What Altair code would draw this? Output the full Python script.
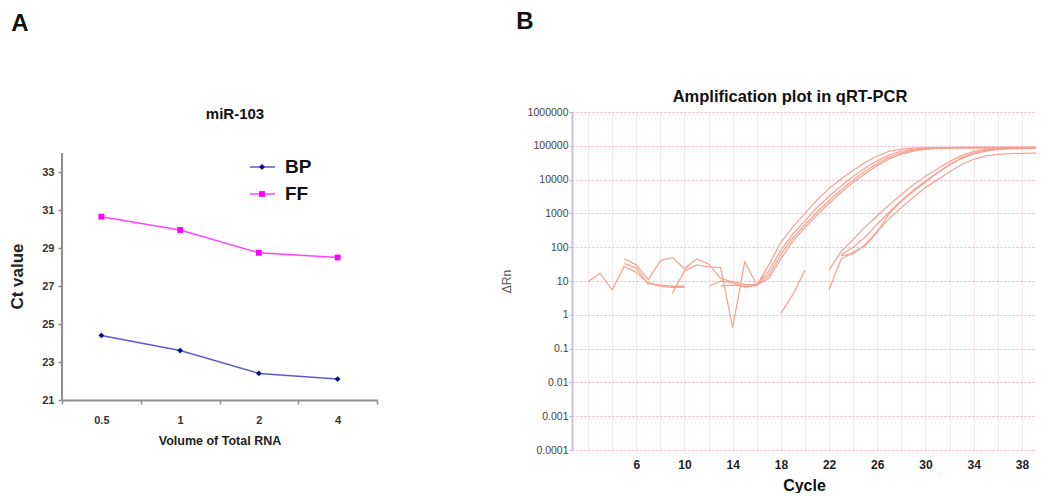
import altair as alt
import pandas as pd

FONT = "Liberation Sans"

# ---------------- Panel A data ----------------
volumes = ["0.5", "1", "2", "4"]
series_names = ["BP", "FF"]
bp_ct = [24.4, 23.6, 22.4, 22.1]
ff_ct = [30.65, 29.95, 28.75, 28.5]
ct_ticks = [21, 23, 25, 27, 29, 31, 33]
ct_axis_top = 34

# ---------------- Panel B data ----------------
cycles = list(range(1, 41))
N = None
curve_e1 = [N, 9.5, 17, 5.5, 27, 18, 8.5, 7.5, 7, 7, N, N, 7.2, 7.5, 7.0, 7.4, 30, 140, 400, 1000,
            2500, 5500, 10500, 19000, 32000, 50000, 70000, 80000, 85000, 87000,
            88000, 88500, 89000, 89000, 89500, 89500, 90000, 90000, 90000, 90000]
curve_e2 = [N, N, N, N, 45, 30, 11, 40, 50, 23, 45, 32, 12, 9.5, 8, 7.8, 20, 80, 250, 600,
            1500, 3200, 6500, 12500, 22000, 36000, 54000, 70000, 80000, 85000,
            87000, 88000, 88500, 89000, 89000, 89000, 89000, 89000, 89000, 89000]
curve_e3 = [N, N, N, N, 33, 24, 8, N, 4.3, 20, 30, 26, 25, 0.42, 37, 7.6, 15, 60, 190, 460,
            1100, 2400, 5000, 9800, 18000, 30000, 46000, 62000, 74000, 81000,
            85000, 87000, 88000, 88500, 88500, 88500, 88500, 88500, 88500, 88500]
curve_e4 = [N, N, N, N, N, N, 9, 7, 6.5, 6.5, N, 7, 10, 9, 6.5, 7.5, 12, 45, 150, 380,
            900, 2000, 4200, 8200, 15000, 26000, 41000, 57000, 70000, 79000,
            84000, 86000, 87000, 87500, 87500, 87500, 87500, 87500, 87500, 87500]
curve_l1 = [N, N, N, N, N, N, N, N, N, N, N, N, N, N, N, N, N, 1.1, 4, 21,
            N, 5.5, 45, 70, 110, 280, 1000, 2300, 4500, 8500,
            16000, 28000, 45000, 62000, 74000, 80000, 84000, 86000, 87000, 88000]
curve_l2 = [N, N, N, N, N, N, N, N, N, N, N, N, N, N, N, N, N, N, N, N,
            N, 21, 75, 170, 400, 850, 1800, 3600, 7000, 12500,
            21000, 34000, 52000, 68000, 78000, 83000, 86000, 87000, 88000, 88000]
curve_l3 = [N, N, N, N, N, N, N, N, N, N, N, N, N, N, N, N, N, N, N, N,
            N, N, 55, 65, 120, 300, 700, 1500, 3000, 5800,
            10000, 17000, 28000, 40000, 50000, 56000, 59000, 60000, 61000, 61000]
curve_l4 = [N, N, N, N, N, N, N, N, N, N, N, N, N, N, N, N, N, N, N, N,
            N, N, 60, 100, 200, 480, 1100, 2400, 4800, 9000,
            16000, 27000, 42000, 58000, 70000, 77000, 81000, 83000, 84000, 84000]
curve_names = ["E1", "E2", "E3", "E4", "L1", "L2", "L3", "L4"]
curve_values = [curve_e1, curve_e2, curve_e3, curve_e4, curve_l1, curve_l2, curve_l3, curve_l4]
drn_ticks = [0.0001, 0.001, 0.01, 0.1, 1, 10, 100, 1000, 10000, 100000, 1000000]
cycle_grid = list(range(2, 40, 2))
cycle_labels = [6, 10, 14, 18, 22, 26, 30, 34, 38]

# ---------------- Panel A ----------------
rowsA = []
for s, vals in zip(series_names, [bp_ct, ff_ct]):
    for v, c in zip(volumes, vals):
        rowsA.append({"volume": v, "ct": c, "series": s})
dfA = pd.DataFrame(rowsA)

line_colors = ["#5a5ad2", "#ff44ff"]
marker_colors = ["#0a0a84", "#ff00ff"]
marker_shapes = ["diamond", "square"]
gray = "#8e8e8e"

# plot area of A spans the same height above as panel B; the visible axis stops at 34
A_HEIGHT = 288
A_TOP = 21 + A_HEIGHT / 19.0

xA = alt.X("volume:N", sort=volumes, bandPosition=0.5,
           scale=alt.Scale(type="band", domain=volumes, paddingInner=0, paddingOuter=0),
           axis=alt.Axis(title="Volume of Total RNA", labelAngle=0, tickBand="extent",
                         domainColor=gray, domainWidth=2, tickColor=gray, tickWidth=1.5, tickSize=4,
                         labelFont=FONT, labelFontSize=11, labelFontWeight="bold", labelColor="#333",
                         labelPadding=10, titleFont=FONT, titleFontSize=12.5, titleFontWeight="bold",
                         titleColor="#222", titlePadding=9, grid=False))
yA = alt.Y("ct:Q", scale=alt.Scale(domain=[21, A_TOP], nice=False, zero=False),
           axis=alt.Axis(values=ct_ticks, title=None, grid=False, domain=False,
                         tickColor=gray, tickWidth=1.5, tickSize=4,
                         labelFont=FONT, labelFontSize=11, labelFontWeight="bold", labelColor="#333",
                         labelPadding=4))

linesA = alt.Chart(dfA).mark_line(strokeWidth=1.5).encode(
    x=xA, y=yA,
    color=alt.Color("series:N", scale=alt.Scale(domain=series_names, range=line_colors), legend=None))
pointsA = alt.Chart(dfA).mark_point(filled=True, opacity=1, size=34).encode(
    x=xA, y=yA,
    fill=alt.Fill("series:N", scale=alt.Scale(domain=series_names, range=marker_colors), legend=None),
    shape=alt.Shape("series:N", scale=alt.Scale(domain=series_names, range=marker_shapes), legend=None))

axis_df = pd.DataFrame({"lo": [min(ct_ticks)], "hi": [ct_axis_top]})
axisA = alt.Chart(axis_df).mark_rule(color=gray, strokeWidth=2).encode(
    x=alt.value(0), y=alt.Y("lo:Q"), y2="hi:Q")

ytitle_df = pd.DataFrame({"t": ["Ct value"], "mid": [(min(ct_ticks) + ct_axis_top) / 2]})
ytitleA = alt.Chart(ytitle_df).mark_text(angle=270, align="center", baseline="middle", font=FONT,
                                         fontSize=17, fontWeight="bold", color="#222").encode(
    x=alt.value(-44), y=alt.Y("mid:Q"), text="t:N")

layersA = [axisA, linesA, pointsA, ytitleA]
for i, s in enumerate(series_names):
    d = pd.DataFrame({"series": [s]})
    yv = 55 + 27 * i
    layersA.append(alt.Chart(d).mark_rule(color=line_colors[i], strokeWidth=1.5).encode(
        x=alt.value(188), x2=alt.value(213), y=alt.value(yv)))
    layersA.append(alt.Chart(d).mark_point(filled=True, opacity=1, size=34, shape=marker_shapes[i],
                                           color=marker_colors[i]).encode(x=alt.value(200), y=alt.value(yv)))
    layersA.append(alt.Chart(d).mark_text(align="left", baseline="middle", font=FONT, fontSize=19,
                                          fontWeight="bold", color="#111").encode(
        x=alt.value(223), y=alt.value(yv), text="series:N"))

textA = pd.DataFrame({"t": ["miR-103"]})
layersA.append(alt.Chart(textA).mark_text(align="center", baseline="middle", font=FONT, fontSize=15,
                                          fontWeight="bold", color="#111").encode(
    x=alt.value(173), y=alt.value(2), text="t:N"))
letterA = pd.DataFrame({"t": ["A"]})
layersA.append(alt.Chart(letterA).mark_text(align="center", baseline="middle", font=FONT, fontSize=24,
                                            fontWeight="bold", color="#111").encode(
    x=alt.value(-42), y=alt.value(-88), text="t:N"))
spacerA = pd.DataFrame({"t": [" "]})
layersA.append(alt.Chart(spacerA).mark_text(align="left", baseline="top", fontSize=4).encode(
    x=alt.value(-54), y=alt.value(-104), text="t:N"))

chartA = alt.layer(*layersA).properties(width=315, height=A_HEIGHT)

# ---------------- Panel B ----------------
rowsB = []
for name, vals in zip(curve_names, curve_values):
    seg = 0
    prev = None
    for c, v in zip(cycles, vals):
        if v is None:
            if prev is not None:
                seg += 1
            prev = None
            continue
        rowsB.append({"curve": name, "part": f"{name}-{seg}", "cycle": c, "dRn": v})
        prev = v
dfB = pd.DataFrame(rowsB)

lab_expr = "indexof([" + ",".join(str(v) for v in cycle_labels) + "], datum.value) >= 0 ? datum.label : ''"
xB = alt.X("cycle:Q", scale=alt.Scale(domain=[0.668, 39.17], nice=False, zero=False),
           axis=alt.Axis(values=cycle_grid, labelExpr=lab_expr, title="Cycle", grid=True,
                         gridColor="#f8e6ed", gridWidth=1, domain=False, ticks=False, tickSize=0,
                         labelFont=FONT, labelFontSize=12, labelFontWeight="bold", labelColor="#222",
                         labelPadding=9, labelFlush=False, labelOverlap=False,
                         titleFont=FONT, titleFontSize=16, titleFontWeight="bold", titleColor="#111",
                         titlePadding=7))
yB = alt.Y("dRn:Q", scale=alt.Scale(type="log", domain=[0.0001, 1000000], nice=False),
           axis=alt.Axis(values=drn_ticks, labelExpr="format(datum.value, '')", title="ΔRn",
                         grid=True, gridColor="#eeb0c4", gridDash=[2, 2], gridWidth=1,
                         domainColor="#cbc2d6", domainWidth=2, tickColor="#b8b0c4", tickSize=3,
                         labelFont=FONT, labelFontSize=10.5, labelColor="#444", labelPadding=1,
                         labelOverlap=False, labelFlush=False,
                         titleFont=FONT, titleFontSize=12, titleFontWeight="normal", titleColor="#555",
                         titlePadding=14))

linesB = alt.Chart(dfB).mark_line(strokeWidth=1.3, color="#f6a08e", clip=True, opacity=0.95).encode(
    x=xB, y=yB, detail="part:N", order="cycle:Q")

textB = pd.DataFrame({"t": ["Amplification plot in qRT-PCR"]})
titleB = alt.Chart(textB).mark_text(align="center", baseline="middle", font=FONT, fontSize=16.5,
                                    fontWeight="bold", color="#111").encode(
    x=alt.value(218), y=alt.value(-15), text="t:N")
letterB = pd.DataFrame({"t": ["B"]})
letterBm = alt.Chart(letterB).mark_text(align="center", baseline="middle", font=FONT, fontSize=24,
                                        fontWeight="bold", color="#111").encode(
    x=alt.value(-47), y=alt.value(-90), text="t:N")
spacerB = alt.Chart(spacerA).mark_text(align="left", baseline="top", fontSize=4).encode(
    x=alt.value(-80), y=alt.value(-104), text="t:N")

chartB = alt.layer(linesB, titleB, letterBm, spacerB).properties(width=464, height=338)

chart = alt.hconcat(chartA, chartB, spacing=114).properties(
    padding=0, background="white"
).configure_view(stroke=None)

chart.save("out.html", embed_options={"renderer": "svg", "actions": False})
